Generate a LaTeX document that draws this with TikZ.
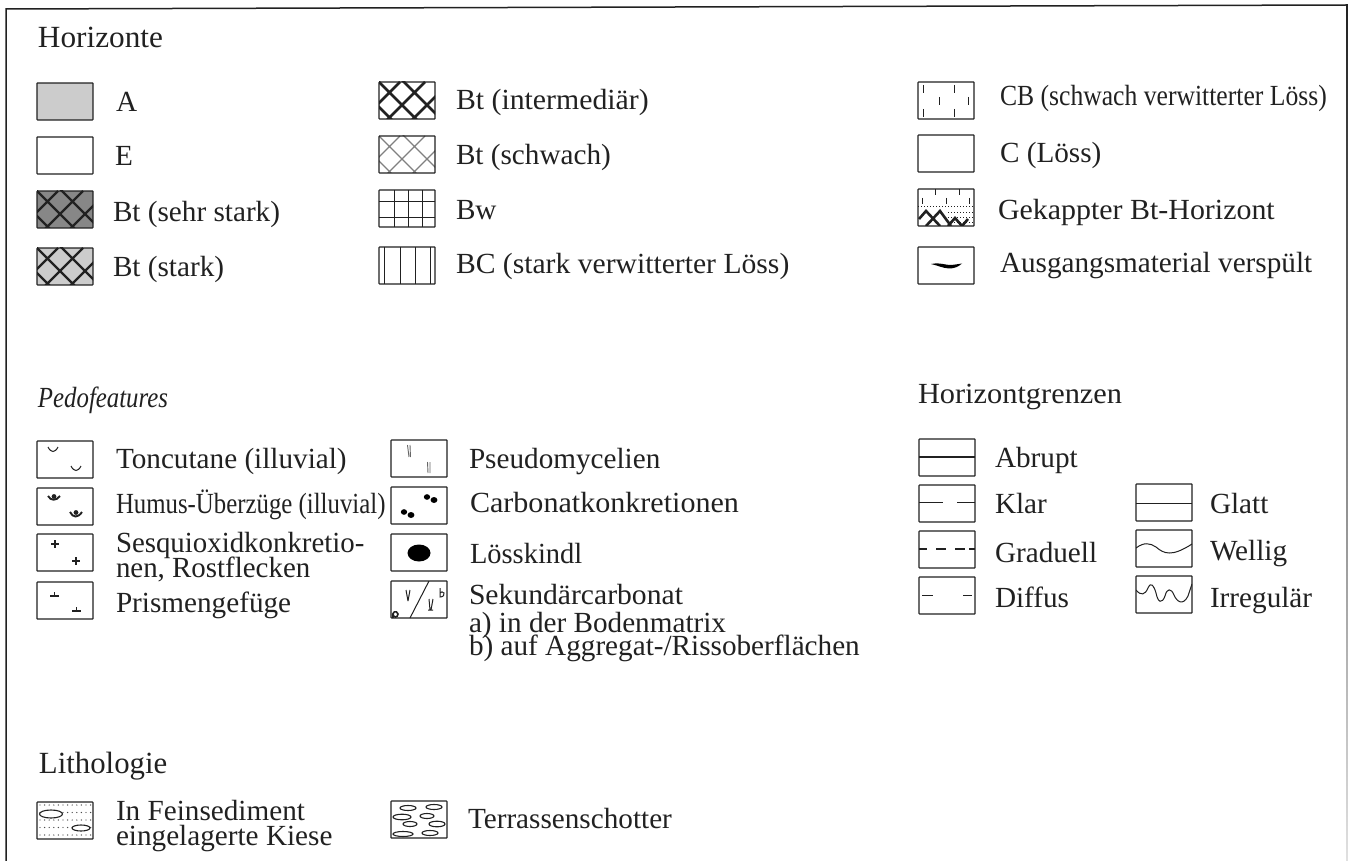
\documentclass[tikz,border=0pt]{standalone}
\usepackage{fontspec}
\usepackage{graphicx}
\setmainfont{Liberation Serif}
\usetikzlibrary{shapes.geometric}
\definecolor{ink}{gray}{0.13}
\definecolor{softgray}{gray}{0.80}
\definecolor{darkfill}{gray}{0.53}
\tikzset{
  x=0.5pt,y=-0.5pt,
  frameline/.style={draw=ink,line width=0.75pt,line cap=round},
  symbox/.style={draw=ink,line width=0.6pt,rounded corners=0.3pt},
  label/.style={anchor=base west,inner sep=0pt,outer sep=0pt,text=ink,font=\fontsize{14.6}{14.6}\selectfont},
  headlabel/.style={label,font=\fontsize{15.4}{15.4}\selectfont},
  heavyhatch/.style={draw=ink,line width=1.3pt},
  midhatch/.style={draw=ink,line width=1.1pt},
  lighthatch/.style={draw=black!50,line width=0.6pt},
  thinline/.style={draw=ink,line width=0.5pt},
  faintline/.style={draw=black!60,line width=0.45pt},
  markline/.style={draw=ink,line width=0.6pt},
  boldmark/.style={draw=ink,line width=0.95pt},
  solidmark/.style={fill=black,draw=none},
  pebble/.style={draw=ink,line width=0.55pt,fill=white},
}
\newcommand{\sx}[2]{\scalebox{#1}[1]{#2}}
\newcommand{\legendbox}[3]{%
  \begin{scope}[shift={(#1)}]
    \fill[#2] (0,0) rectangle (56,37);
    \begin{scope}
      \clip (0,0) rectangle (56,37);
      #3
    \end{scope}
    \draw[symbox] (0,0) rectangle (56,37);
  \end{scope}}
\newcommand{\crosshatch}[1]{%
  \draw[#1] (-2,-2) -- (45,45) (23,-2) -- (70,45) (-2,23) -- (20,45)
            (21,0) -- (-2,23) (46,0) -- (2,44) (71,0) -- (27,44);}
\begin{document}
\begin{tikzpicture}
\useasboundingbox (0,0) rectangle (1349,861);
\fill[white] (0,0) rectangle (1349,861);
\draw[frameline] (6,861) -- (6,9) -- (1347,5);
\shade[top color=ink,bottom color=black!12] (1346.2,5) rectangle (1347.8,861);

% Horizonte
\node[headlabel] (hHor) at (38,48) {\sx{1.015}{Horizonte}};
\legendbox{37,83}{softgray}{}
\legendbox{37,137}{white}{}
\legendbox{37,191}{darkfill}{\crosshatch{midhatch}}
\legendbox{37,248}{softgray}{\crosshatch{midhatch}}
\node[label] (tA) at (116,112) {A};
\node[label] (tE) at (115,166) {E};
\node[label] (tBts) at (113,222) {Bt (sehr stark)};
\node[label] (tBtk) at (113,277) {Bt (stark)};

\legendbox{379,82}{white}{\crosshatch{heavyhatch}}
\legendbox{379,136}{white}{\crosshatch{lighthatch}}
\legendbox{379,190}{white}{%
  \draw[thinline] (15,0) -- (15,37) (29,0) -- (29,37) (43,0) -- (43,37) (0,12) -- (56,12) (0,28) -- (56,28);}
\legendbox{379,247}{white}{%
  \draw[thinline] (5,0) -- (5,37) (21,0) -- (21,37) (36,0) -- (36,37) (51,0) -- (51,37);}
\node[label] (tBti) at (456,110) {\sx{1.02}{Bt (intermediär)}};
\node[label] (tBtw) at (456,165) {Bt (schwach)};
\node[label] (tBw) at (456,220) {Bw};
\node[label] (tBC) at (456,274) {\sx{1.015}{BC (stark verwitterter Löss)}};

\legendbox{918,82}{white}{%
  \draw[thinline] (5,3) -- (5,11) (36,3) -- (36,11) (21,15) -- (21,23) (50,15) -- (50,23) (5,27) -- (5,35) (36,27) -- (36,35);}
\legendbox{918,135}{white}{}
\legendbox{918,189}{white}{%
  \draw[thinline] (17,0) -- (17,6) (41,0) -- (41,6) (4,9) -- (4,15) (28,9) -- (28,15) (51,9) -- (51,15);
  \draw[thinline,densely dotted] (0,18) -- (56,18) (30,24) -- (56,24) (30,29) -- (56,29) (30,34) -- (56,34);
  \draw[heavyhatch] (1,30) -- (8,22) -- (22,37) (8,37) -- (22,22) -- (33,37) (30,37) -- (37,29) -- (44,37) -- (50,30);}
\legendbox{918,247}{white}{%
  \draw[solidmark] (13,17) .. controls (20,15.5) and (24,17) .. (31,18) .. controls (36,18) and (40,17) .. (44,16.5) .. controls (40,20) and (36,21.5) .. (31,21.5) .. controls (24,21) and (20,18.5) .. (13,17) -- cycle;}
\node[label] (tCB) at (1000,106) {\sx{0.878}{CB (schwach verwitterter Löss)}};
\node[label] (tC) at (1000,163) {C (Löss)};
\node[label] (tGek) at (998,220) {\sx{1.025}{Gekappter Bt-Horizont}};
\node[label] (tAus) at (1000,273) {Ausgangsmaterial verspült};

% Pedofeatures
\node[label,font=\fontsize{14.6}{14.6}\selectfont\itshape] (hPed) at (38,407) {\sx{0.85}{Pedofeatures}};
\legendbox{37,441}{white}{%
  \draw[thinline] (11,6) .. controls (14,12) and (18,12) .. (21,6) (34,25) .. controls (37,31) and (41,31) .. (44,25);}
\legendbox{37,488}{white}{%
  \draw[boldmark] (11,8) .. controls (14,13) and (19,13) .. (23,8) (33,24) .. controls (36,30) and (41,30) .. (45,24);
  \fill[ink] (17,8.5) circle (2.4) (39,24.5) circle (2.4);}
\legendbox{37,534}{white}{%
  \draw[boldmark] (14,10) -- (22,10) (18,6) -- (18,14) (35,27) -- (43,27) (39,23) -- (39,31);}
\legendbox{37,582}{white}{%
  \draw[boldmark] (13,14) -- (22,14) (17.5,10) -- (17.5,14) (35,29) -- (44,29) (39.5,25) -- (39.5,29);}
\node[label] (tTon) at (116,468) {Toncutane (illuvial)};
\node[label] (tHum) at (116,513) {\sx{0.85}{Humus-Überzüge (illuvial)}};
\node[label] (tSes) at (116,552) {\sx{0.988}{Sesquioxidkonkretio-}};
\node[label] (tNen) at (116,577) {\sx{0.99}{nen, Rostflecken}};
\node[label] (tPri) at (116,612) {Prismengefüge};

\legendbox{391,440}{white}{%
  \draw[faintline] (16.5,5) -- (18,17) (19,5) -- (19.5,17) (36.5,22) -- (37,33) (39,22) -- (39,33);}
\legendbox{391,487}{white}{%
  \fill[black] (36,10) ellipse (3.2 and 2.8) (43,13) ellipse (3.4 and 3) (13,25) ellipse (3.2 and 2.8) (20,28) ellipse (3.4 and 3);}
\legendbox{391,534}{white}{%
  \fill[black] (28,19) ellipse (11.5 and 8.5);}
\legendbox{391,581}{white}{%
  \draw[thinline] (38,0) -- (19,37);
  \draw[thinline] (15,9) -- (17,20) (19,9) -- (17,20) (38,18) -- (39,29) (42,18) -- (40,29) (37,29) -- (42,29);
  \draw[markline,line width=0.8pt] (2,37) .. controls (0,30) and (6,29) .. (7,33) .. controls (7,37) and (2,37) .. (2,33);
  \draw[thinline] (49,7) -- (49,16) .. controls (52,16) and (54,14) .. (53,12) .. controls (52,10) and (50,11) .. (49,12);}
\node[label] (tPse) at (469,468) {Pseudomycelien};
\node[label] (tCar) at (470,512) {\sx{1.03}{Carbonatkonkretionen}};
\node[label] (tLoe) at (470,563) {\sx{0.975}{Lösskindl}};
\node[label] (tSek) at (469,604) {\sx{1.015}{Sekundärcarbonat}};
\node[label] (tSa) at (469,632) {a) in der Bodenmatrix};
\node[label] (tSb) at (469,655) {b) auf Aggregat-/Rissoberflächen};

% Horizontgrenzen
\node[label] (hGre) at (918,403) {\sx{1.04}{Horizontgrenzen}};
\legendbox{919,439}{white}{\draw[markline] (0,18) -- (56,18);}
\legendbox{919,485}{white}{\draw[thinline] (0,17) -- (24,17) (38,17) -- (56,17);}
\legendbox{919,531}{white}{\draw[markline] (0,18) -- (8,18) (17,18) -- (27,18) (36,18) -- (46,18) (50,18) -- (56,18);}
\legendbox{919,577}{white}{\draw[thinline] (3,18) -- (14,18) (44,18) -- (53,18);}
\legendbox{1136,484}{white}{\draw[thinline] (0,19) -- (56,19);}
\legendbox{1136,530}{white}{\draw[thinline] (0,18) .. controls (8,12) and (14,13) .. (20,17) .. controls (28,24) and (36,27) .. (56,14);}
\legendbox{1136,576}{white}{\draw[thinline] (0,14) .. controls (5,20) and (9,19) .. (12,12) .. controls (15,5) and (18,10) .. (20,17) .. controls (22,27) and (26,28) .. (29,20) .. controls (31,12) and (35,12) .. (38,19) .. controls (41,26) and (47,30) .. (52,20) -- (56,8);}
\node[label] (tAbr) at (995,467) {Abrupt};
\node[label] (tKla) at (995,513) {Klar};
\node[label] (tGra) at (995,562) {Graduell};
\node[label] (tDif) at (995,607) {Diffus};
\node[label] (tGla) at (1210,513) {Glatt};
\node[label] (tWel) at (1210,560) {Wellig};
\node[label] (tIrr) at (1210,607) {Irregulär};

% Lithologie
\node[headlabel] (hLit) at (39,773) {Lithologie};
\legendbox{37,802}{white}{%
  \foreach \i in {0,1,2,3,4,5,6,7,8,9,10,11}{\foreach \j in {0,1,2,3,4}{\fill[black!70] ({3+\i*4.6},{3+\j*7.5}) circle (0.7);}}
  \draw[pebble] (14,12) ellipse (11.5 and 4) (44,26) ellipse (9 and 3);}
\legendbox{391,801}{white}{%
  \draw[pebble] (17,7) ellipse (8 and 2.5) (43,6) ellipse (8 and 2.5) (11,16) ellipse (9 and 2.8) (36,15) ellipse (7 and 2.5)
    (19,23) ellipse (7 and 2.5) (46,23) ellipse (8 and 2.8) (12,33) ellipse (10 and 2.5) (39,32) ellipse (8 and 2.5);}
\node[label] (tFei) at (116,820) {In Feinsediment};
\node[label] (tEin) at (116,845) {eingelagerte Kiese};
\node[label] (tTer) at (468,828) {Terrassenschotter};
\end{tikzpicture}
\end{document}
